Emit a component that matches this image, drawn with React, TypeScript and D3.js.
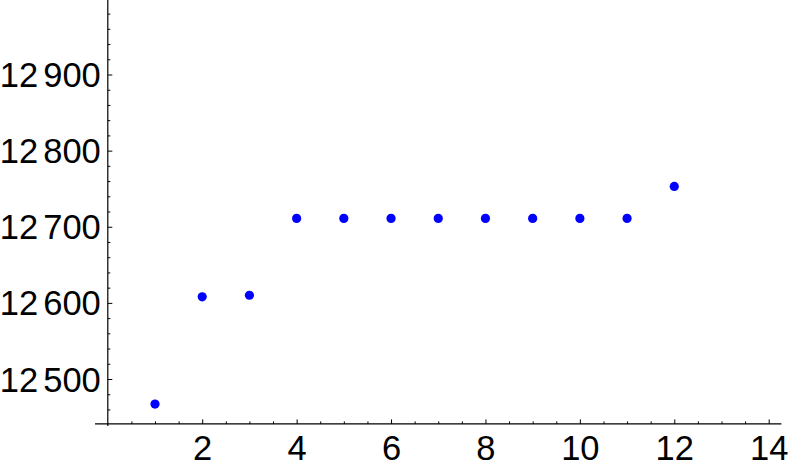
import React, { useEffect, useRef } from "react";
import * as d3 from "d3";

// points of the list plot (index, value)
const xs = [1, 2, 3, 4, 5, 6, 7, 8, 9, 10, 11, 12];
const values = [12467, 12608, 12610, 12711, 12711, 12711, 12711, 12711, 12711, 12711, 12711, 12753];
const xTicks = [2, 4, 6, 8, 10, 12, 14];
const yTicks = [12500, 12600, 12700, 12800, 12900];

const width = 789;
const height = 468;

function ListPlot() {
  const ref = useRef<SVGSVGElement>(null);

  useEffect(() => {
    const svg = d3.select(ref.current);
    svg.selectAll("*").remove();

    // scales
    const x = d3.scaleLinear().domain([0, 14]).range([107.8, 768.7]);
    const y = d3.scaleLinear().domain([12500, 12900]).range([379, 74.5]);

    const xMin = -0.27, xMax = 14.27;
    const yMin = 12441, yMax = 13000;

    const font = "'Liberation Sans', Arial, sans-serif";

    // x axis: minor ticks then major ticks, pointing inward
    const xMinor = d3.range(0.5, 14.01, 0.5).filter((v) => v % 2 !== 0);
    svg
      .append("g")
      .attr("transform", `translate(0,${y(yMin)})`)
      .call(d3.axisBottom(x).tickValues(xMinor).tickSizeInner(-2.5).tickSizeOuter(0).tickFormat(() => ""))
      .call((g) => g.select(".domain").remove());
    const gx = svg
      .append("g")
      .attr("transform", `translate(0,${y(yMin)})`)
      .call(d3.axisBottom(x).tickValues(xTicks).tickSizeInner(-4.5).tickSizeOuter(0).tickPadding(11).tickFormat(d3.format("d")));
    gx.select(".domain").remove();
    gx.selectAll("text").attr("dy", "0.72em");

    // y axis
    const yMinor = d3.range(12460, 12990, 20).filter((v) => v % 100 !== 0);
    svg
      .append("g")
      .attr("transform", `translate(${x(0)},0)`)
      .call(d3.axisLeft(y).tickValues(yMinor).tickSizeInner(-2.5).tickSizeOuter(0).tickFormat(() => ""))
      .call((g) => g.select(".domain").remove());
    const gy = svg
      .append("g")
      .attr("transform", `translate(${x(0)},0)`)
      .call(d3.axisLeft(y).tickValues(yTicks).tickSizeInner(-4.5).tickSizeOuter(0).tickPadding(7).tickFormat(() => ""));
    gy.select(".domain").remove();
    // labels with a small digit-group gap, like "12 900"
    gy.selectAll<SVGTextElement, number>("text")
      .attr("dy", "0.35em")
      .each(function (d) {
        const t = d3.select(this);
        const s = String(d);
        t.append("tspan").text(s.slice(0, s.length - 3));
        t.append("tspan").attr("dx", 5).text(s.slice(-3));
      });

    svg.selectAll(".tick line").attr("stroke", "#000").attr("stroke-width", 1);
    svg.selectAll(".tick text").attr("font-family", font).attr("font-size", 34.5).attr("fill", "#000");

    // axis lines
    svg
      .append("line")
      .attr("x1", x(xMin))
      .attr("x2", x(xMax))
      .attr("y1", y(yMin))
      .attr("y2", y(yMin))
      .attr("stroke", "#000")
      .attr("stroke-width", 1.2);
    svg
      .append("line")
      .attr("x1", x(0))
      .attr("x2", x(0))
      .attr("y1", y(yMin) + 2)
      .attr("y2", y(yMax))
      .attr("stroke", "#000")
      .attr("stroke-width", 1.2);

    // points
    svg
      .selectAll(".pt")
      .data(values)
      .join("circle")
      .attr("class", "pt")
      .attr("cx", (d, i) => x(xs[i]))
      .attr("cy", (d) => y(d))
      .attr("r", 4.6)
      .attr("fill", "#0000ff");
  }, []);

  return <svg ref={ref} width={width} height={height} style={{ position: "absolute", left: 0, top: 0, background: "#fff" }} />;
}

export default function App() {
  return <ListPlot />;
}
